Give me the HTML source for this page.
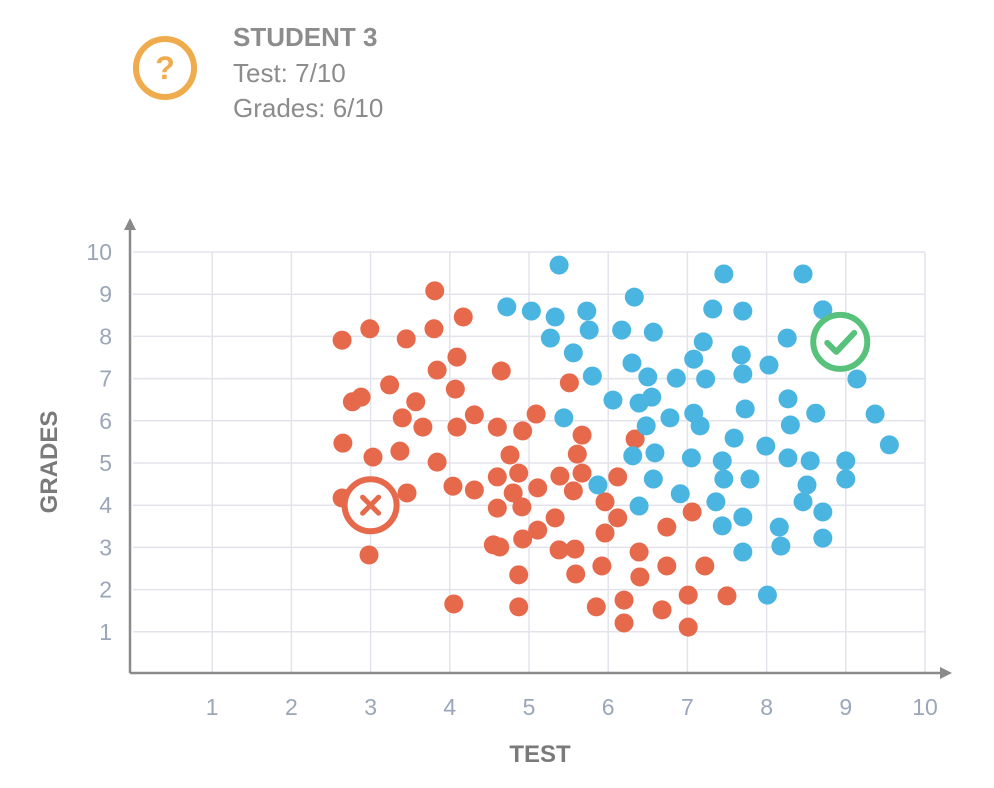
<!DOCTYPE html>
<html><head><meta charset="utf-8">
<style>
body{margin:0;background:#fff;width:994px;height:788px;overflow:hidden;font-family:"Liberation Sans",sans-serif;}
.hd{position:absolute;left:233px;color:#8c8c8c;font-size:26px;}
</style></head>
<body>
<svg style="position:absolute;left:130px;top:33px" width="72" height="72">
<circle cx="35" cy="35" r="29" fill="none" stroke="#f0ab4c" stroke-width="6"/>
<text x="35" y="46" text-anchor="middle" font-family="Liberation Sans" font-weight="bold" font-size="32" fill="#f0ab4c">?</text>
</svg>
<div class="hd" style="top:22px;font-weight:bold">STUDENT 3</div>
<div class="hd" style="top:58px">Test: 7/10</div>
<div class="hd" style="top:93px">Grades: 6/10</div>
<svg id="chart" style="position:absolute;left:0;top:0" width="994" height="788"></svg>
<script>
const xTicks=[1,2,3,4,5,6,7,8,9,10];
const yTicks=[1,2,3,4,5,6,7,8,9,10];
const redX=[3.81,4.17,2.64,2.99,3.45,3.80,4.09,3.84,4.65,3.24,2.77,2.88,3.57,4.07,5.51,3.40,3.66,4.09,4.31,4.60,4.92,5.09,2.65,3.03,3.37,3.84,5.67,4.76,5.61,6.34,4.60,4.87,5.39,5.67,6.12,4.04,4.31,4.80,5.11,5.56,2.64,3.46,4.60,4.91,5.96,5.33,6.12,5.11,5.96,2.98,4.55,4.63,4.92,5.38,5.58,6.39,5.92,5.59,4.87,6.40,4.05,4.87,5.85,6.20,6.20,7.06,6.74,6.74,7.22,7.01,7.50,6.68,7.01];
const redY=[9.08,8.46,7.91,8.18,7.94,8.18,7.51,7.20,7.18,6.85,6.45,6.56,6.45,6.75,6.90,6.07,5.85,5.85,6.14,5.85,5.76,6.16,5.47,5.14,5.28,5.02,5.66,5.19,5.21,5.57,4.67,4.76,4.69,4.76,4.67,4.45,4.36,4.29,4.41,4.34,4.17,4.29,3.93,3.96,4.08,3.70,3.70,3.41,3.34,2.82,3.06,3.01,3.20,2.94,2.96,2.89,2.56,2.37,2.35,2.30,1.66,1.59,1.59,1.75,1.21,3.84,3.48,2.56,2.56,1.87,1.85,1.52,1.11];
const blueX=[5.38,7.46,8.46,6.33,4.72,5.03,5.33,5.73,7.32,7.70,8.71,5.27,5.76,6.17,6.57,7.20,8.26,5.56,6.30,7.08,7.68,8.03,5.80,6.50,6.86,7.23,7.70,9.14,6.06,6.39,6.55,8.27,8.62,9.37,5.44,6.78,7.08,7.16,7.73,8.30,6.48,7.59,7.99,9.55,6.31,6.59,7.05,7.44,8.27,8.55,9.00,5.87,6.57,7.46,7.79,8.51,9.00,6.91,7.36,8.46,6.39,8.71,7.70,7.44,8.16,8.71,8.18,7.70,8.01];
const blueY=[9.69,9.48,9.48,8.93,8.70,8.60,8.46,8.60,8.65,8.60,8.63,7.96,8.15,8.15,8.10,7.87,7.96,7.61,7.37,7.46,7.56,7.32,7.06,7.04,7.01,6.99,7.11,6.99,6.49,6.42,6.56,6.52,6.18,6.16,6.07,6.07,6.18,5.88,6.28,5.90,5.88,5.59,5.40,5.43,5.17,5.24,5.12,5.05,5.12,5.05,5.05,4.48,4.62,4.62,4.62,4.48,4.62,4.27,4.08,4.08,3.98,3.84,3.72,3.51,3.48,3.22,3.03,2.89,1.87];
const failPt=[3,4];
const passPt=[8.93,7.87];
const NS="http://www.w3.org/2000/svg";
const svg=document.getElementById('chart');
const X0=133,XS=79.2,Y0=674,YS=42.2;
function sx(v){return X0+v*XS;}
function sy(v){return Y0-v*YS;}
function mk(t,a){const e=document.createElementNS(NS,t);for(const k in a)e.setAttribute(k,a[k]);svg.appendChild(e);return e;}
const grid="#e3e3ec";
xTicks.forEach(t=>{
  const l=mk('line',{x1:sx(t),x2:sx(t),y1:sy(0),y2:sy(10),stroke:grid,'stroke-width':1.5});
  
  
  const tx=mk('text',{x:sx(t),y:715,'text-anchor':'middle','font-size':23,fill:'#9ba6b8','font-family':'Liberation Sans'});
  tx.textContent=t;
  
  
});
yTicks.forEach(t=>{
  const l=mk('line',{x1:sx(0),x2:sx(10),y1:sy(t),y2:sy(t),stroke:grid,'stroke-width':1.5});
  
  
  const tx=mk('text',{x:112,y:sy(t)+8,'text-anchor':'end','font-size':23,fill:'#9ba6b8','font-family':'Liberation Sans'});
  tx.textContent=t;
  
  
});
const xa=mk('path',{d:'M130 673 H945',stroke:'#8a8a8a','stroke-width':2.5,fill:'none'});


const xr=mk('path',{d:'M952 673 L940 667 L940 679 Z',fill:'#8a8a8a'});


const ya=mk('path',{d:'M130 673 V225',stroke:'#8a8a8a','stroke-width':2.5,fill:'none'});


const yr=mk('path',{d:'M130 218 L124 230 L136 230 Z',fill:'#8a8a8a'});


const xt=mk('text',{x:540,y:762,'text-anchor':'middle','font-size':24,'font-weight':'bold',fill:'#7a7a7a','font-family':'Liberation Sans'});
xt.textContent='TEST';


const yt=mk('text',{x:0,y:0,'text-anchor':'middle','font-size':24,'font-weight':'bold',fill:'#7a7a7a','font-family':'Liberation Sans',transform:'translate(57,462) rotate(-90)'});
yt.textContent='GRADES';


redX.forEach((v,i)=>{
  const c=mk('circle',{cx:sx(v),cy:sy(redY[i]),r:9.5,fill:'#e7694b'});
  
  
});
blueX.forEach((v,i)=>{
  const c=mk('circle',{cx:sx(v),cy:sy(blueY[i]),r:9.5,fill:'#4bb5e2'});
  
  
});
const fx=sx(failPt[0]),fy=sy(failPt[1]);
const fc=mk('circle',{cx:fx,cy:fy,r:26,fill:'#fff',stroke:'#e7694b','stroke-width':6});


const fxm=mk('path',{d:`M${fx-8} ${fy-8} L${fx+8} ${fy+8} M${fx+8} ${fy-8} L${fx-8} ${fy+8}`,stroke:'#e7694b','stroke-width':5,'stroke-linecap':'round'});


const px=sx(passPt[0]),py=sy(passPt[1]);
const pc=mk('circle',{cx:px,cy:py,r:27,fill:'#fff',stroke:'#58c27d','stroke-width':6});


const pcm=mk('path',{d:`M${px-13} ${py+1} L${px-4} ${py+10} L${px+14} ${py-9}`,stroke:'#58c27d','stroke-width':6,fill:'none','stroke-linecap':'round','stroke-linejoin':'round'});


</script>
</body></html>
